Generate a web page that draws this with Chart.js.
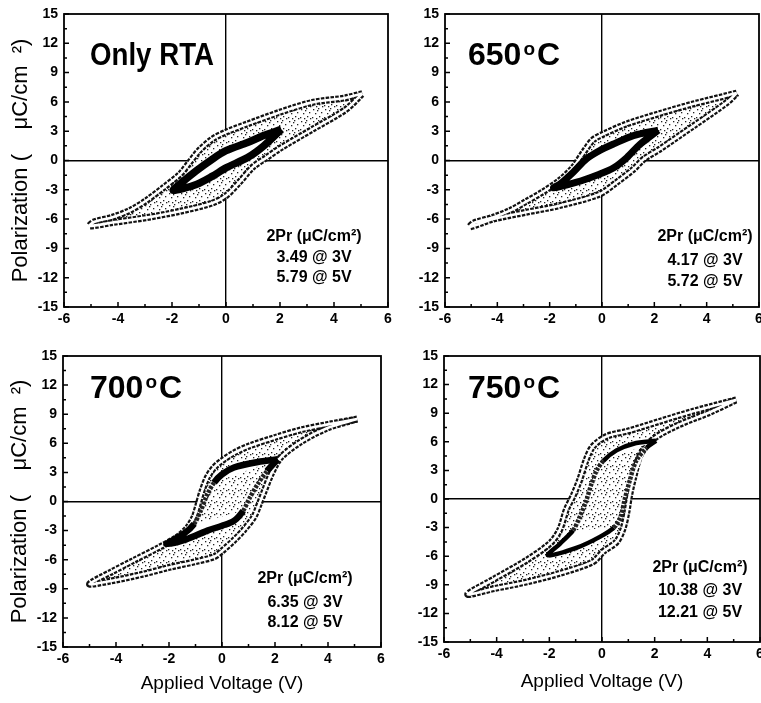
<!DOCTYPE html>
<html>
<head>
<meta charset="utf-8">
<title>P-V hysteresis loops</title>
<script src="https://cdn.jsdelivr.net/npm/chart.js@4.4.0/dist/chart.umd.min.js"></script>
<style>
  html, body { margin: 0; padding: 0; background: #fff; }
  #wrap { position: relative; width: 761px; height: 703px; overflow: hidden; }
  .panel { position: absolute; left: 0; top: 0; width: 761px; height: 703px; }
</style>
</head>
<body>
<div id="wrap">
  <div class="panel"><canvas id="c0"></canvas></div>
  <div class="panel"><canvas id="c1"></canvas></div>
  <div class="panel"><canvas id="c2"></canvas></div>
  <div class="panel"><canvas id="c3"></canvas></div>
</div>
<script>
// tick labels
var voltageTicks = [-6, -4, -2, 0, 2, 4, 6];
var polarTicks = [-15, -12, -9, -6, -3, 0, 3, 6, 9, 12, 15];

// panel labels and 2Pr values (uC/cm2)
var panelNames = ['Only RTA', '650', '700', '750'];
var pr3V = ['3.49', '4.17', '6.35', '10.38'];
var pr5V = ['5.79', '5.72', '8.12', '12.21'];

// loops, [voltage, polarization]
// upper branch runs +V -> -V, lower branch runs -V -> +V
var rtaOuterUp = [[5.05, 6.85], [4.4, 6.4], [3.2, 5.95], [2.0, 4.95], [0.8, 3.75], [0.0, 2.9], [-0.5, 2.2], [-1.0, 1.0], [-1.35, -0.2], [-1.7, -1.4], [-2.3, -2.75], [-2.95, -4.1], [-3.55, -5.1], [-4.2, -5.8], [-4.9, -6.3], [-5.05, -6.7]];
var rtaOuterLo = [[-5.05, -6.7], [-4.2, -6.35], [-2.95, -5.85], [-1.7, -5.2], [-0.5, -4.35], [0.0, -3.6], [0.5, -2.2], [1.0, -0.65], [1.5, 0.3], [2.0, 1.25], [3.2, 3.2], [4.45, 5.25], [5.05, 6.85]];
var rtaInnerUp = [[2.05, 3.2], [1.4, 2.55], [0.8, 1.85], [0.0, 1.0], [-0.5, 0.15], [-1.1, -1.05], [-1.7, -2.4], [-1.95, -3.05]];
var rtaInnerLo = [[-1.95, -3.05], [-1.1, -2.45], [-0.5, -1.6], [0.0, -0.75], [0.8, 0.3], [1.4, 1.5], [2.05, 3.2]];

var t650OuterUp = [[5.15, 6.9], [3.5, 5.8], [2.2, 4.8], [0.95, 3.75], [0.05, 2.7], [-0.35, 2.1], [-0.7, 0.85], [-1.1, -0.7], [-1.6, -2.0], [-2.25, -3.2], [-2.9, -4.2], [-3.5, -5.1], [-4.15, -5.8], [-4.9, -6.4], [-5.05, -6.8]];
var t650OuterLo = [[-5.05, -6.8], [-4.15, -6.0], [-2.9, -5.3], [-1.6, -4.6], [-0.1, -3.45], [0.55, -2.25], [1.2, -0.9], [1.6, 0.15], [2.2, 1.15], [3.5, 3.55], [4.75, 5.9], [5.15, 6.9]];
var t650InnerUp = [[2.15, 3.1], [1.2, 2.55], [0.45, 1.7], [-0.1, 1.0], [-0.6, 0.15], [-1.1, -1.2], [-1.6, -2.4], [-1.85, -2.8]];
var t650InnerLo = [[-1.85, -2.8], [-1.0, -2.25], [-0.1, -1.4], [0.45, -0.75], [0.95, 0.3], [1.45, 1.65], [2.15, 3.1]];

var t700OuterUp = [[5.1, 8.5], [4.0, 7.95], [3.0, 7.4], [2.0, 6.6], [1.0, 5.7], [0.45, 5.0], [0.0, 4.2], [-0.3, 3.5], [-0.55, 2.5], [-0.75, 1.1], [-0.9, -0.3], [-1.05, -1.6], [-1.3, -2.7], [-1.7, -3.7], [-2.35, -4.7], [-3.35, -6.1], [-4.2, -7.3], [-5.0, -8.5]];
var t700OuterLo = [[-5.0, -8.5], [-4.2, -8.2], [-3.0, -7.5], [-2.0, -6.8], [-1.0, -6.2], [-0.3, -5.7], [0.0, -5.1], [0.45, -4.0], [0.8, -3.0], [1.2, -1.6], [1.4, -0.3], [1.6, 1.1], [1.85, 2.8], [2.2, 4.5], [3.0, 6.2], [4.0, 7.6], [5.1, 8.5]];
var t700InnerUp = [[2.1, 4.35], [1.2, 4.0], [0.45, 3.5], [0.0, 2.8], [-0.3, 1.95], [-0.55, 0.75], [-0.8, -0.95], [-1.05, -2.3], [-1.45, -3.35], [-2.1, -4.4]];
var t700InnerLo = [[-2.1, -4.4], [-1.35, -3.9], [-0.55, -3.0], [0.0, -2.5], [0.45, -2.0], [0.8, -0.95], [1.05, 0.4], [1.35, 1.8], [1.7, 3.15], [2.1, 4.35]];

var t750OuterUp = [[5.1, 10.4], [3.45, 9.2], [2.2, 8.15], [0.95, 7.1], [0.2, 6.6], [-0.35, 5.5], [-0.6, 4.1], [-0.85, 2.0], [-1.1, 0.3], [-1.35, -1.1], [-1.6, -3.2], [-1.95, -4.6], [-2.85, -6.4], [-4.1, -8.4], [-5.1, -10.0]];
var t750OuterLo = [[-5.1, -10.0], [-4.1, -9.4], [-2.85, -8.7], [-1.6, -7.8], [-0.35, -6.6], [0.05, -5.5], [0.55, -4.5], [0.8, -3.1], [0.95, -1.3], [1.05, 0.4], [1.2, 2.2], [1.45, 4.6], [1.95, 6.3], [2.85, 7.7], [4.1, 9.1], [5.1, 10.4]];
var t750InnerUp = [[2.05, 6.1], [1.2, 5.8], [0.55, 5.1], [0.05, 4.0], [-0.2, 3.0], [-0.4, 1.6], [-0.6, -0.2], [-0.85, -1.9], [-1.1, -3.3], [-1.6, -4.7], [-2.05, -5.9]];
var t750InnerLo = [[-2.05, -5.9], [-0.95, -5.1], [-0.1, -4.0], [0.45, -3.0], [0.7, -1.9], [0.85, -0.2], [1.05, 1.9], [1.3, 4.0], [1.7, 5.4], [2.05, 6.1]];

var fam = "'Liberation Sans', Arial, sans-serif";
Chart.defaults.font.family = fam;
Chart.defaults.color = '#000';

// where each panel sits and how it is decorated
var panels = [
  {outer: [rtaOuterUp, rtaOuterLo], inner: [rtaInnerUp, rtaInnerLo], pad: {left: 8, top: 14, right: 373, bottom: 366}, xH: 30, yTitle: true, xTitle: false,
   titleAt: [26, 51], titleWidth: 124, degree: false, noteX: 250, noteY: [227, 248, 268], innerWidth: 7.5, chain: false},
  {outer: [t650OuterUp, t650OuterLo], inner: [t650InnerUp, t650InnerLo], pad: {left: 389, top: 14, right: 2, bottom: 366}, xH: 30, yTitle: false, xTitle: false,
   titleAt: [23, 51], degree: true, noteX: 260, noteY: [227, 251, 272], innerWidth: 7, chain: false},
  {outer: [t700OuterUp, t700OuterLo], inner: [t700InnerUp, t700InnerLo], pad: {left: 7, top: 356, right: 380, bottom: 6}, xH: 50, yTitle: true, xTitle: true,
   titleAt: [27, 42], degree: true, noteX: 242, noteY: [227, 251, 271], innerWidth: 6.5, chain: true},
  {outer: [t750OuterUp, t750OuterLo], inner: [t750InnerUp, t750InnerLo], pad: {left: 388, top: 356, right: 1, bottom: 8}, xH: 53, yTitle: false, xTitle: true,
   titleAt: [24, 42], degree: true, noteX: 256, noteY: [216, 239, 261], innerWidth: 4.5, chain: true}
];

// sparse dot texture for the space inside the big loop
var dotTile = [[1, 1], [6, 0], [9, 4], [3, 5], [7, 8], [0, 9], [4, 10], [10, 10], [5, 2]];
function speckle() {
  var c = document.createElement('canvas');
  c.width = 12; c.height = 12;
  var g = c.getContext('2d');
  g.fillStyle = '#fff';
  g.fillRect(0, 0, 12, 12);
  g.fillStyle = '#222';
  dotTile.forEach(function(d) { g.fillRect(d[0], d[1], 1.3, 1.3); });
  return g.createPattern(c, 'repeat');
}

function loop(up, lo) {
  return up.concat(lo.slice(1)).map(function(p) { return {x: p[0], y: p[1]}; });
}

function steep(c) {
  var dx = Math.abs(c.p1.parsed.x - c.p0.parsed.x);
  var dy = Math.abs(c.p1.parsed.y - c.p0.parsed.y);
  return dy > 3.5 * dx;
}

// box and inward tick marks; zero lines come from the grid
var framePlugin = {
  id: 'frame',
  afterDraw: function(chart) {
    var a = chart.chartArea, ctx = chart.ctx;
    var xs = chart.scales.x, ys = chart.scales.y;
    ctx.save();
    ctx.strokeStyle = '#000';
    ctx.lineWidth = 1.8;
    ctx.strokeRect(a.left, a.top, a.right - a.left, a.bottom - a.top);
    ctx.lineWidth = 1.5;
    ctx.beginPath();
    polarTicks.forEach(function(v, i) {
      var py = ys.getPixelForValue(v);
      ctx.moveTo(a.left, py); ctx.lineTo(a.left + 5, py);
      if (i > 0) {
        var pm = ys.getPixelForValue((v + polarTicks[i - 1]) / 2);
        ctx.moveTo(a.left, pm); ctx.lineTo(a.left + 3, pm);
      }
    });
    voltageTicks.forEach(function(v, i) {
      var px = xs.getPixelForValue(v);
      ctx.moveTo(px, a.bottom); ctx.lineTo(px, a.bottom - 5);
      if (i > 0) {
        var pm = xs.getPixelForValue((v + voltageTicks[i - 1]) / 2);
        ctx.moveTo(pm, a.bottom); ctx.lineTo(pm, a.bottom - 3);
      }
    });
    ctx.stroke();
    ctx.restore();
  }
};

var notesPlugin = {
  id: 'notes',
  afterDraw: function(chart, args, o) {
    var a = chart.chartArea, ctx = chart.ctx;
    var x = a.left + o.titleAt[0], y = a.top + o.titleAt[1];
    ctx.save();
    ctx.fillStyle = '#000';
    ctx.textBaseline = 'alphabetic';
    ctx.textAlign = 'left';
    ctx.font = 'bold 32px ' + fam;
    if (o.degree) {
      ctx.fillText(o.name, x, y);
      x += ctx.measureText(o.name).width + 2;
      ctx.font = 'bold 19px ' + fam;
      ctx.fillText('o', x, y - 10);
      x += ctx.measureText('o').width + 2;
      ctx.font = 'bold 32px ' + fam;
      ctx.fillText('C', x, y);
    } else {
      ctx.fillText(o.name, x, y, o.titleWidth);
    }
    ctx.textAlign = 'center';
    ctx.font = 'bold 16px ' + fam;
    o.lines.forEach(function(t, i) {
      ctx.fillText(t, a.left + o.noteX, a.top + o.noteY[i]);
    });
    ctx.restore();
  }
};

var gridOpts = {
  drawTicks: false,
  lineWidth: 1.4,
  color: function(c) { return c.tick && c.tick.value === 0 ? '#000' : 'rgba(0,0,0,0)'; }
};

panels.forEach(function(p, k) {
  var outerPts = loop(p.outer[0], p.outer[1]);
  var innerPts = loop(p.inner[0], p.inner[1]);
  var innerSeg = p.chain ? {
    borderDash: function(c) { return steep(c) ? [3, 1.3] : undefined; },
    borderColor: function(c) { return steep(c) ? '#222' : undefined; },
    borderWidth: function(c) { return steep(c) ? 4.5 : undefined; }
  } : {};

  new Chart(document.getElementById('c' + k), {
    type: 'scatter',
    data: {
      datasets: [{
        data: innerPts, showLine: true, tension: 0.3, order: 1,
        fill: 'shape', backgroundColor: '#fff',
        borderColor: '#000', borderWidth: p.innerWidth, pointRadius: 0,
        segment: innerSeg
      }, {
        data: outerPts, showLine: true, tension: 0.3, order: 2,
        fill: false, borderColor: '#fff', borderWidth: 2.6, pointRadius: 0
      }, {
        data: outerPts, showLine: true, tension: 0.3, order: 3,
        fill: 'shape', backgroundColor: speckle(),
        borderColor: '#111', borderWidth: 7, borderDash: [3.5, 1.3], pointRadius: 0
      }]
    },
    options: {
      responsive: true,
      maintainAspectRatio: false,
      animation: false,
      events: [],
      layout: {padding: p.pad},
      scales: {
        x: {
          type: 'linear',
          min: voltageTicks[0],
          max: voltageTicks[voltageTicks.length - 1],
          afterBuildTicks: function(s) { s.ticks = voltageTicks.map(function(v) { return {value: v}; }); },
          afterFit: function(s) { s.height = p.xH; s.paddingLeft = 0; s.paddingRight = 0; },
          grid: gridOpts,
          border: {display: false},
          ticks: {color: '#000', font: {size: 14, weight: 'bold'}, padding: 4, maxRotation: 0, autoSkip: false},
          title: {display: p.xTitle, text: 'Applied Voltage (V)', color: '#000', font: {size: 19}, padding: {top: 0, bottom: 2}}
        },
        y: {
          type: 'linear',
          min: polarTicks[0],
          max: polarTicks[polarTicks.length - 1],
          afterBuildTicks: function(s) { s.ticks = polarTicks.map(function(v) { return {value: v}; }); },
          afterFit: function(s) { s.width = 56; s.paddingTop = 0; s.paddingBottom = 0; },
          grid: gridOpts,
          border: {display: false},
          ticks: {color: '#000', font: {size: 14, weight: 'bold'}, padding: 6, autoSkip: false},
          title: {display: p.yTitle, text: 'Polarization (    \u03bcC/cm  \u00b2)', color: '#000', font: {size: 22}, padding: 0}
        }
      },
      plugins: {
        legend: {display: false},
        tooltip: {enabled: false},
        notes: {
          name: panelNames[k], degree: p.degree, titleAt: p.titleAt, titleWidth: p.titleWidth,
          noteX: p.noteX, noteY: p.noteY,
          lines: ['2Pr (\u03bcC/cm\u00b2)', pr3V[k] + ' @ 3V', pr5V[k] + ' @ 5V']
        }
      }
    },
    plugins: [framePlugin, notesPlugin]
  });
});
</script>
</body>
</html>
